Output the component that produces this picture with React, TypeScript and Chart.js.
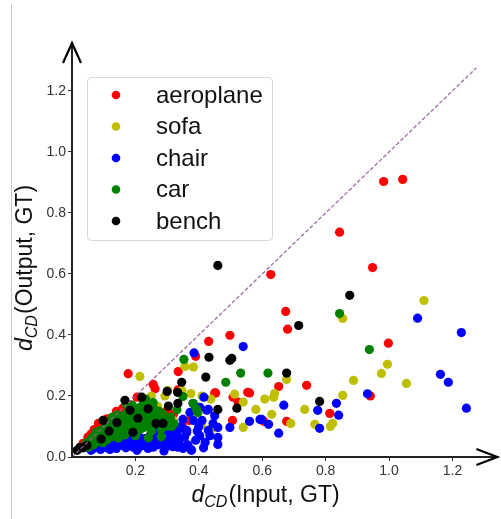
import React, { useEffect, useRef } from 'react';
import { Chart, registerables } from 'chart.js';

Chart.register(...registerables);

type Pt = [number, number];

const seriesNames = ['aeroplane', 'sofa', 'chair', 'car', 'bench'];
const seriesColors = ['#ff0000', '#bfbf00', '#0000ff', '#008000', '#000000'];

const aeroplanePts: Pt[] = [
  [0.983, 0.903], [1.043, 0.91], [0.844, 0.737], [0.948, 0.621], [0.627, 0.598],
  [0.674, 0.477], [0.68, 0.419], [0.998, 0.373], [0.652, 0.231], [0.74, 0.235],
  [0.941, 0.2], [0.813, 0.143], [0.677, 0.117], [0.605, 0.117], [0.498, 0.399],
  [0.431, 0.379], [0.177, 0.273], [0.256, 0.238], [0.262, 0.224], [0.335, 0.28],
  [0.39, 0.33], [0.453, 0.21], [0.508, 0.196], [0.554, 0.212], [0.524, 0.18],
  [0.506, 0.12], [0.405, 0.104], [0.35, 0.097], [0.56, 0.21], [0.083, 0.11],
  [0.05, 0.065], [0.035, 0.045], [0.12, 0.11], [0.07, 0.09], [0.16, 0.16],
  [0.186, 0.17], [0.205, 0.196], [0.3, 0.153], [0.22, 0.153], [0.334, 0.22],
  [0.028, 0.03], [0.14, 0.15], [0.1, 0.12], [0.3, 0.09], [0.32, 0.14],
  [0.37, 0.12], [0.45, 0.21], [0.06, 0.075], [0.11, 0.125], [0.175, 0.165],
];

const sofaPts: Pt[] = [
  [1.11, 0.513], [0.854, 0.454], [0.995, 0.304], [0.976, 0.274], [1.055, 0.241],
  [0.888, 0.251], [0.854, 0.202], [0.677, 0.254], [0.639, 0.208], [0.636, 0.196],
  [0.608, 0.19], [0.58, 0.156], [0.63, 0.14], [0.69, 0.11], [0.734, 0.156],
  [0.766, 0.107], [0.815, 0.1], [0.822, 0.11], [0.214, 0.264], [0.356, 0.297],
  [0.383, 0.295], [0.293, 0.2], [0.346, 0.219], [0.41, 0.2], [0.438, 0.19],
  [0.513, 0.206], [0.54, 0.18], [0.39, 0.16], [0.277, 0.13], [0.236, 0.146],
  [0.408, 0.105], [0.445, 0.097], [0.375, 0.208], [0.302, 0.218], [0.27, 0.166],
  [0.44, 0.094], [0.54, 0.097], [0.25, 0.2], [0.23, 0.17], [0.18, 0.15],
  [0.32, 0.12], [0.2, 0.12], [0.26, 0.1],
];

const chairPts: Pt[] = [
  [1.09, 0.455], [1.228, 0.408], [1.162, 0.271], [1.187, 0.245], [1.244, 0.16],
  [0.932, 0.207], [0.834, 0.176], [0.841, 0.137], [0.775, 0.153], [0.781, 0.094],
  [0.668, 0.17], [0.598, 0.123], [0.62, 0.107], [0.652, 0.078], [0.56, 0.117],
  [0.385, 0.341], [0.54, 0.362], [0.416, 0.196], [0.43, 0.156], [0.498, 0.097],
  [0.46, 0.097], [0.46, 0.064], [0.46, 0.041], [0.375, 0.025], [0.334, 0.032],
  [0.403, 0.07], [0.42, 0.048], [0.377, 0.022], [0.403, 0.163], [0.372, 0.146],
  [0.35, 0.123], [0.383, 0.12], [0.309, 0.114], [0.334, 0.087], [0.362, 0.08],
  [0.288, 0.087], [0.267, 0.064], [0.309, 0.062], [0.26, 0.039], [0.288, 0.04],
  [0.34, 0.039], [0.43, 0.087], [0.593, 0.123], [0.382, 0.175], [0.425, 0.153],
  [0.067, 0.028], [0.099, 0.038], [0.13, 0.032], [0.16, 0.038], [0.193, 0.032],
  [0.224, 0.038], [0.256, 0.032], [0.318, 0.034], [0.35, 0.028], [0.214, 0.064],
  [0.246, 0.07], [0.277, 0.064], [0.309, 0.07], [0.34, 0.06], [0.362, 0.087],
  [0.318, 0.094], [0.173, 0.061], [0.142, 0.054], [0.11, 0.048], [0.08, 0.043],
  [0.047, 0.032], [0.185, 0.045], [0.235, 0.05], [0.12, 0.025], [0.205, 0.022],
  [0.29, 0.02], [0.4, 0.1], [0.27, 0.095], [0.3, 0.05],
  [0.06, 0.022], [0.09, 0.025], [0.11, 0.03], [0.14, 0.028], [0.15, 0.045],
  [0.17, 0.03], [0.18, 0.055], [0.2, 0.045], [0.21, 0.03], [0.23, 0.06],
  [0.24, 0.028], [0.26, 0.055], [0.27, 0.04], [0.28, 0.08], [0.3, 0.035],
  [0.31, 0.085], [0.325, 0.05], [0.33, 0.075], [0.345, 0.1], [0.355, 0.065],
  [0.365, 0.04], [0.39, 0.055], [0.395, 0.085], [0.41, 0.12], [0.415, 0.03],
  [0.435, 0.07], [0.445, 0.11], [0.45, 0.135], [0.25, 0.075], [0.2, 0.065],
  [0.16, 0.06], [0.13, 0.05], [0.1, 0.06], [0.075, 0.035],
];

const carPts: Pt[] = [
  [0.844, 0.47], [0.938, 0.352], [0.618, 0.275], [0.353, 0.32], [0.485, 0.245],
  [0.35, 0.198], [0.532, 0.275], [0.382, 0.176], [0.397, 0.146], [0.392, 0.158],
  [0.03, 0.03], [0.046, 0.047], [0.052, 0.032], [0.062, 0.058], [0.068, 0.04],
  [0.074, 0.071], [0.082, 0.052], [0.087, 0.086], [0.092, 0.066], [0.097, 0.047],
  [0.102, 0.094], [0.107, 0.077], [0.112, 0.057], [0.116, 0.108], [0.121, 0.09],
  [0.127, 0.067], [0.131, 0.118], [0.136, 0.1], [0.141, 0.081], [0.146, 0.062],
  [0.151, 0.133], [0.156, 0.114], [0.161, 0.095], [0.166, 0.072], [0.171, 0.142],
  [0.176, 0.121], [0.18, 0.102], [0.186, 0.083], [0.19, 0.153], [0.196, 0.131],
  [0.201, 0.111], [0.206, 0.086], [0.211, 0.161], [0.216, 0.141], [0.221, 0.12],
  [0.226, 0.097], [0.232, 0.166], [0.24, 0.146], [0.245, 0.121], [0.251, 0.101],
  [0.256, 0.178], [0.261, 0.156], [0.266, 0.134], [0.272, 0.111], [0.281, 0.091],
  [0.286, 0.141], [0.292, 0.121], [0.301, 0.101], [0.311, 0.131], [0.322, 0.109],
  [0.171, 0.173], [0.232, 0.19], [0.2, 0.07], [0.126, 0.13], [0.142, 0.138],
  [0.111, 0.1], [0.076, 0.081], [0.331, 0.155], [0.241, 0.063], [0.281, 0.066],
  [0.04, 0.035], [0.055, 0.05], [0.07, 0.06], [0.085, 0.07], [0.095, 0.08],
  [0.105, 0.085], [0.118, 0.098], [0.128, 0.105], [0.133, 0.087], [0.148, 0.125],
  [0.153, 0.105], [0.158, 0.085], [0.163, 0.13], [0.168, 0.11], [0.178, 0.135],
  [0.183, 0.115], [0.188, 0.095], [0.198, 0.145], [0.203, 0.125], [0.208, 0.1],
  [0.213, 0.15], [0.218, 0.13], [0.228, 0.11], [0.236, 0.155], [0.243, 0.135],
  [0.248, 0.11], [0.253, 0.165], [0.258, 0.145], [0.263, 0.12], [0.275, 0.15],
  [0.283, 0.13], [0.295, 0.11], [0.305, 0.12], [0.315, 0.1], [0.12, 0.075],
  [0.135, 0.075], [0.16, 0.078], [0.19, 0.09], [0.215, 0.09], [0.25, 0.085],
  [0.09, 0.055], [0.065, 0.065], [0.225, 0.18], [0.19, 0.17],
];

const benchPts: Pt[] = [
  [0.46, 0.628], [0.876, 0.53], [0.715, 0.431], [0.677, 0.275], [0.781, 0.182],
  [0.432, 0.327], [0.498, 0.317], [0.504, 0.323], [0.422, 0.262], [0.346, 0.245],
  [0.3, 0.215], [0.333, 0.212], [0.304, 0.167], [0.334, 0.176], [0.46, 0.156],
  [0.52, 0.16], [0.287, 0.11], [0.24, 0.158], [0.092, 0.059], [0.098, 0.12],
  [0.117, 0.085], [0.142, 0.113], [0.167, 0.186], [0.192, 0.081], [0.208, 0.127],
  [0.22, 0.196], [0.183, 0.153], [0.047, 0.038], [0.025, 0.032], [0.016, 0.022],
  [0.035, 0.03], [0.265, 0.11],
];

const xTicks = [0.2, 0.4, 0.6, 0.8, 1.0, 1.2];
const yTicks = [0.0, 0.2, 0.4, 0.6, 0.8, 1.0, 1.2];
const diagonalPts: Pt[] = [[0, 0], [1.275, 1.275]];

const allSeries = [aeroplanePts, sofaPts, chairPts, carPts, benchPts];

const FONT = '"Liberation Sans", Arial, sans-serif';

function drawMathLabel(ctx: CanvasRenderingContext2D, rest: string, size: number) {
  const subSize = size * 0.7;
  ctx.font = `italic ${size}px ${FONT}`;
  const wD = ctx.measureText('d').width;
  ctx.font = `italic ${subSize}px ${FONT}`;
  const wS = ctx.measureText('CD').width;
  ctx.font = `${size}px ${FONT}`;
  const wR = ctx.measureText(rest).width;
  const total = wD + wS + wR + 1;
  let x = -total / 2;
  ctx.textBaseline = 'alphabetic';
  ctx.textAlign = 'left';
  ctx.font = `italic ${size}px ${FONT}`;
  ctx.fillText('d', x, 0);
  x += wD;
  ctx.font = `italic ${subSize}px ${FONT}`;
  ctx.fillText('CD', x, size * 0.2);
  x += wS + 1;
  ctx.font = `${size}px ${FONT}`;
  ctx.fillText(rest, x, 0);
}

const decorPlugin = {
  id: 'decor',
  beforeDraw(chart: any) {
    const ctx = chart.ctx as CanvasRenderingContext2D;
    ctx.save();
    ctx.fillStyle = '#ffffff';
    ctx.fillRect(0, 0, chart.width, chart.height);
    ctx.strokeStyle = '#c8c8c8';
    ctx.lineWidth = 1;
    ctx.beginPath();
    ctx.moveTo(11.5, 4);
    ctx.lineTo(11.5, chart.height);
    ctx.stroke();
    ctx.restore();
  },
  afterDraw(chart: any) {
    const ctx = chart.ctx as CanvasRenderingContext2D;
    const { left, right, top, bottom } = chart.chartArea;
    ctx.save();
    ctx.strokeStyle = '#222';
    ctx.lineWidth = 2;
    ctx.beginPath();
    ctx.moveTo(left, bottom);
    ctx.lineTo(left, top + 1);
    ctx.moveTo(left, bottom);
    ctx.lineTo(right + 1, bottom);
    ctx.stroke();
    ctx.strokeStyle = '#000';
    ctx.lineWidth = 2.2;
    ctx.lineJoin = 'miter';
    ctx.beginPath();
    ctx.moveTo(left - 9, top + 20);
    ctx.lineTo(left, top);
    ctx.lineTo(left + 9, top + 20);
    ctx.stroke();
    ctx.beginPath();
    ctx.moveTo(right - 20, bottom - 8);
    ctx.lineTo(right + 1, bottom);
    ctx.lineTo(right - 20, bottom + 8);
    ctx.stroke();

    const lx = 87.5, ly = 77.5, lw = 185, lh = 163, r = 4;
    ctx.fillStyle = 'rgba(255,255,255,0.85)';
    ctx.strokeStyle = '#d6d6d6';
    ctx.lineWidth = 1;
    ctx.beginPath();
    ctx.moveTo(lx + r, ly);
    ctx.lineTo(lx + lw - r, ly);
    ctx.arcTo(lx + lw, ly, lx + lw, ly + r, r);
    ctx.lineTo(lx + lw, ly + lh - r);
    ctx.arcTo(lx + lw, ly + lh, lx + lw - r, ly + lh, r);
    ctx.lineTo(lx + r, ly + lh);
    ctx.arcTo(lx, ly + lh, lx, ly + lh - r, r);
    ctx.lineTo(lx, ly + r);
    ctx.arcTo(lx, ly, lx + r, ly, r);
    ctx.closePath();
    ctx.fill();
    ctx.stroke();
    const rowYs = [95, 126.5, 158, 189.5, 221];
    seriesNames.forEach((name, i) => {
      ctx.fillStyle = seriesColors[i];
      ctx.beginPath();
      ctx.arc(116, rowYs[i], 4.3, 0, Math.PI * 2);
      ctx.fill();
      ctx.fillStyle = '#111';
      ctx.font = `24px ${FONT}`;
      ctx.textBaseline = 'middle';
      ctx.textAlign = 'left';
      ctx.fillText(name, 156, rowYs[i] + 1);
    });

    ctx.fillStyle = '#111';
    ctx.save();
    ctx.translate(265.5, 502);
    drawMathLabel(ctx, '(Input, GT)', 23);
    ctx.restore();
    ctx.save();
    ctx.translate(32, 268);
    ctx.rotate(-Math.PI / 2);
    drawMathLabel(ctx, '(Output, GT)', 23);
    ctx.restore();
    ctx.restore();
  },
};

export default function App() {
  const ref = useRef<HTMLCanvasElement | null>(null);
  useEffect(() => {
    document.body.style.margin = '0';
    const canvas = ref.current;
    if (!canvas) return;
    const datasets: any[] = allSeries.map((pts, i) => ({
      type: 'scatter',
      label: seriesNames[i],
      data: pts.map(([x, y]) => ({ x, y })),
      backgroundColor: seriesColors[i],
      borderColor: seriesColors[i],
      pointRadius: 4.6,
      pointHoverRadius: 4.6,
      pointBorderWidth: 0,
      showLine: false,
      clip: false,
      order: 5 - i,
    }));
    datasets.push({
      type: 'line',
      label: 'diagonal',
      data: diagonalPts.map(([x, y]) => ({ x, y })),
      borderColor: 'rgba(150, 95, 155, 0.9)',
      borderWidth: 1.3,
      borderDash: [4, 2],
      pointRadius: 0,
      fill: false,
      order: 0,
    });
    const tickFont = { family: FONT, size: 14 };
    const chart = new Chart(canvas, {
      type: 'scatter',
      data: { datasets },
      plugins: [decorPlugin],
      options: {
        animation: false,
        responsive: false,
        maintainAspectRatio: false,
        devicePixelRatio: 1,
        layout: { padding: { top: 43, right: 4, left: 0, bottom: 0 } },
        plugins: { legend: { display: false }, tooltip: { enabled: false } },
        events: [],
        scales: {
          x: {
            type: 'linear',
            min: 0,
            max: 1.3386,
            afterBuildTicks: (s: any) => { s.ticks = xTicks.map((v) => ({ value: v })); },
            afterFit: (s: any) => { s.height = 62; },
            grid: { display: true, drawOnChartArea: false, drawTicks: true, tickLength: 4, color: '#333', lineWidth: 1 },
            border: { display: false },
            ticks: {
              font: tickFont, color: '#333', padding: 2, maxRotation: 0, autoSkip: false,
              callback: (v: any) => Number(v).toFixed(1),
            },
          },
          y: {
            type: 'linear',
            min: 0,
            max: 1.357,
            afterBuildTicks: (s: any) => { s.ticks = yTicks.map((v) => ({ value: v })); },
            afterFit: (s: any) => { s.width = 72; },
            grid: { display: true, drawOnChartArea: false, drawTicks: true, tickLength: 4, color: '#333', lineWidth: 1 },
            border: { display: false },
            ticks: {
              font: tickFont, color: '#333', padding: 2, autoSkip: false,
              callback: (v: any) => Number(v).toFixed(1),
            },
          },
        },
      } as any,
    });
    return () => chart.destroy();
  }, []);
  return (
    <div style={{ width: 501, height: 519, position: 'relative' }}>
      <canvas ref={ref} width={501} height={519} style={{ display: 'block' }} />
    </div>
  );
}
